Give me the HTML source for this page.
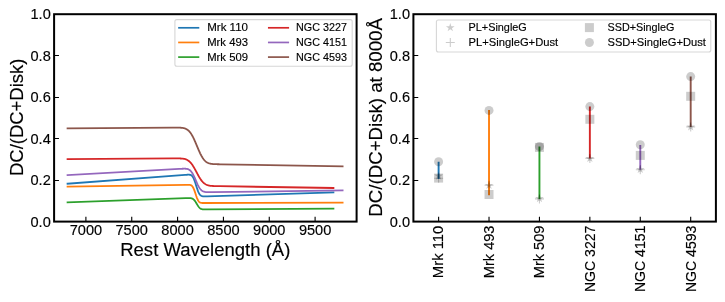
<!DOCTYPE html>
<html><head><meta charset="utf-8"><style>
html,body{margin:0;padding:0;background:#fff;width:725px;height:302px;overflow:hidden;font-family:"Liberation Sans",sans-serif;}
svg{display:block;} text{filter:grayscale(1);}
</style></head><body>
<svg width="725" height="302" viewBox="0 0 725 302" font-family="Liberation Sans, sans-serif">
<rect width="725" height="302" fill="#fff"/>
<defs><clipPath id="cl"><rect x="54.1" y="14.2" width="302.5" height="207.4"/></clipPath><clipPath id="cr"><rect x="413.4" y="14.2" width="302.5" height="207.4"/></clipPath></defs>
<g clip-path="url(#cl)"><polyline points="67.56,183.70 185.10,174.89 185.46,174.86 185.83,174.83 186.20,174.81 186.56,174.78 186.93,174.76 187.30,174.74 187.66,174.72 188.03,174.70 188.40,174.70 188.76,174.70 189.13,174.71 189.50,174.74 189.87,174.79 190.23,174.87 190.60,174.98 190.97,175.14 191.33,175.35 191.70,175.62 192.07,175.96 192.43,176.39 192.80,176.90 193.17,177.50 193.53,178.20 193.90,179.00 194.27,179.89 194.63,180.87 195.00,181.92 195.37,183.03 195.73,184.19 196.10,185.37 196.47,186.55 196.83,187.71 197.20,188.83 197.57,189.90 197.93,190.89 198.30,191.80 198.67,192.61 199.03,193.33 199.40,193.96 199.77,194.49 200.13,194.93 200.50,195.29 200.87,195.58 201.23,195.81 201.60,195.99 201.97,196.12 202.33,196.21 202.70,196.28 203.07,196.33 203.43,196.36 203.80,196.38 204.17,196.39 204.53,196.39 204.90,196.39 205.27,196.38 205.63,196.37 206.00,196.36 206.37,196.35 206.73,196.34 207.10,196.33 333.44,192.40" fill="none" stroke="#1f77b4" stroke-width="1.8" stroke-linecap="square" stroke-linejoin="round"/><polyline points="67.56,186.60 186.01,184.80 186.38,184.80 186.75,184.79 187.11,184.79 187.48,184.79 187.85,184.79 188.21,184.79 188.58,184.80 188.95,184.81 189.32,184.83 189.68,184.87 190.05,184.93 190.42,185.02 190.78,185.15 191.15,185.32 191.52,185.55 191.88,185.85 192.25,186.23 192.62,186.71 192.98,187.28 193.35,187.96 193.72,188.74 194.08,189.62 194.45,190.59 194.82,191.64 195.18,192.73 195.55,193.85 195.92,194.97 196.28,196.07 196.65,197.11 197.02,198.09 197.38,198.97 197.75,199.76 198.12,200.45 198.48,201.03 198.85,201.51 199.22,201.89 199.58,202.20 199.95,202.44 200.32,202.61 200.68,202.74 201.05,202.84 201.42,202.90 201.78,202.95 202.15,202.98 202.52,203.00 202.88,203.01 203.25,203.02 203.62,203.02 203.98,203.02 204.35,203.02 204.72,203.02 205.08,203.02 342.60,202.70" fill="none" stroke="#ff7f0e" stroke-width="1.8" stroke-linecap="square" stroke-linejoin="round"/><polyline points="67.56,202.30 185.65,198.19 186.01,198.18 186.38,198.16 186.75,198.15 187.11,198.14 187.48,198.13 187.85,198.12 188.21,198.11 188.58,198.11 188.95,198.10 189.32,198.11 189.68,198.11 190.05,198.13 190.42,198.16 190.78,198.20 191.15,198.26 191.52,198.34 191.88,198.45 192.25,198.59 192.62,198.77 192.98,198.99 193.35,199.26 193.72,199.57 194.08,199.94 194.45,200.35 194.82,200.82 195.18,201.32 195.55,201.87 195.92,202.45 196.28,203.05 196.65,203.66 197.02,204.28 197.38,204.88 197.75,205.47 198.12,206.02 198.48,206.54 198.85,207.01 199.22,207.44 199.58,207.81 199.95,208.14 200.32,208.42 200.68,208.65 201.05,208.84 201.42,209.00 201.78,209.12 202.15,209.21 202.52,209.29 202.88,209.34 203.25,209.38 203.62,209.41 203.98,209.43 204.35,209.44 204.72,209.45 205.08,209.45 205.45,209.45 205.82,209.45 206.18,209.45 206.55,209.45 206.92,209.45 207.28,209.45 207.65,209.45 333.44,208.60" fill="none" stroke="#2ca02c" stroke-width="1.8" stroke-linecap="square" stroke-linejoin="round"/><polyline points="67.56,159.10 173.00,158.44 173.36,158.44 173.73,158.44 174.10,158.44 174.46,158.43 174.83,158.43 175.20,158.43 175.56,158.43 175.93,158.43 176.30,158.43 176.66,158.43 177.03,158.43 177.40,158.43 177.76,158.43 178.13,158.43 178.50,158.44 178.86,158.44 179.23,158.45 179.60,158.45 179.96,158.46 180.33,158.48 180.70,158.49 181.06,158.51 181.43,158.53 181.80,158.56 182.16,158.59 182.53,158.62 182.90,158.66 183.26,158.71 183.63,158.77 184.00,158.83 184.36,158.90 184.73,158.99 185.10,159.08 185.46,159.19 185.83,159.31 186.20,159.45 186.56,159.61 186.93,159.78 187.30,159.97 187.66,160.17 188.03,160.40 188.40,160.66 188.76,160.93 189.13,161.23 189.50,161.55 189.87,161.90 190.23,162.28 190.60,162.68 190.97,163.10 191.33,163.55 191.70,164.03 192.07,164.54 192.43,165.06 192.80,165.61 193.17,166.19 193.53,166.78 193.90,167.40 194.27,168.03 194.63,168.67 195.00,169.33 195.37,170.00 195.73,170.68 196.10,171.36 196.47,172.05 196.83,172.74 197.20,173.43 197.57,174.11 197.93,174.78 198.30,175.44 198.67,176.09 199.03,176.73 199.40,177.35 199.77,177.95 200.13,178.53 200.50,179.09 200.87,179.62 201.23,180.13 201.60,180.62 201.97,181.08 202.33,181.52 202.70,181.93 203.07,182.31 203.43,182.67 203.80,183.00 204.17,183.31 204.53,183.60 204.90,183.86 205.27,184.10 205.63,184.32 206.00,184.52 206.37,184.70 206.73,184.86 207.10,185.01 207.47,185.14 207.83,185.26 208.20,185.37 208.57,185.46 208.93,185.54 209.30,185.62 209.67,185.68 210.03,185.74 210.40,185.79 210.77,185.83 211.13,185.87 211.50,185.91 211.87,185.94 212.24,185.96 212.60,185.98 212.97,186.01 213.34,186.02 213.70,186.04 214.07,186.05 214.44,186.07 214.80,186.08 215.17,186.09 215.54,186.10 215.90,186.11 216.27,186.12 216.64,186.12 217.00,186.13 217.37,186.14 217.74,186.15 218.10,186.15 218.47,186.16 218.84,186.17 219.20,186.17 219.57,186.18 219.94,186.18 333.44,188.00" fill="none" stroke="#d62728" stroke-width="1.8" stroke-linecap="square" stroke-linejoin="round"/><polyline points="67.56,175.10 179.23,168.92 179.60,168.90 179.96,168.88 180.33,168.86 180.70,168.84 181.06,168.82 181.43,168.80 181.80,168.79 182.16,168.77 182.53,168.75 182.90,168.74 183.26,168.73 183.63,168.72 184.00,168.71 184.36,168.71 184.73,168.71 185.10,168.71 185.46,168.73 185.83,168.75 186.20,168.78 186.56,168.83 186.93,168.89 187.30,168.96 187.66,169.06 188.03,169.18 188.40,169.32 188.76,169.49 189.13,169.69 189.50,169.93 189.87,170.20 190.23,170.51 190.60,170.86 190.97,171.26 191.33,171.71 191.70,172.20 192.07,172.73 192.43,173.32 192.80,173.95 193.17,174.62 193.53,175.33 193.90,176.08 194.27,176.86 194.63,177.66 195.00,178.49 195.37,179.33 195.73,180.18 196.10,181.03 196.47,181.87 196.83,182.71 197.20,183.52 197.57,184.31 197.93,185.07 198.30,185.79 198.67,186.48 199.03,187.12 199.40,187.72 199.77,188.27 200.13,188.78 200.50,189.25 200.87,189.66 201.23,190.04 201.60,190.37 201.97,190.66 202.33,190.91 202.70,191.13 203.07,191.32 203.43,191.48 203.80,191.62 204.17,191.73 204.53,191.83 204.90,191.90 205.27,191.97 205.63,192.02 206.00,192.06 206.37,192.09 206.73,192.11 207.10,192.13 207.47,192.14 207.83,192.15 208.20,192.15 208.57,192.16 208.93,192.16 209.30,192.16 209.67,192.16 210.03,192.15 210.40,192.15 210.77,192.15 211.13,192.14 211.50,192.14 211.87,192.14 212.24,192.13 342.60,190.40" fill="none" stroke="#9467bd" stroke-width="1.8" stroke-linecap="square" stroke-linejoin="round"/><polyline points="67.56,128.30 172.63,127.64 173.00,127.64 173.36,127.64 173.73,127.64 174.10,127.64 174.46,127.64 174.83,127.63 175.20,127.63 175.56,127.63 175.93,127.63 176.30,127.63 176.66,127.63 177.03,127.64 177.40,127.64 177.76,127.64 178.13,127.65 178.50,127.65 178.86,127.66 179.23,127.67 179.60,127.68 179.96,127.69 180.33,127.71 180.70,127.73 181.06,127.76 181.43,127.79 181.80,127.82 182.16,127.86 182.53,127.91 182.90,127.96 183.26,128.03 183.63,128.10 184.00,128.18 184.36,128.28 184.73,128.39 185.10,128.51 185.46,128.65 185.83,128.81 186.20,128.98 186.56,129.18 186.93,129.40 187.30,129.63 187.66,129.90 188.03,130.19 188.40,130.50 188.76,130.85 189.13,131.22 189.50,131.62 189.87,132.06 190.23,132.53 190.60,133.02 190.97,133.56 191.33,134.12 191.70,134.71 192.07,135.34 192.43,136.00 192.80,136.69 193.17,137.41 193.53,138.15 193.90,138.92 194.27,139.71 194.63,140.53 195.00,141.36 195.37,142.21 195.73,143.07 196.10,143.94 196.47,144.82 196.83,145.70 197.20,146.58 197.57,147.46 197.93,148.33 198.30,149.20 198.67,150.05 199.03,150.89 199.40,151.71 199.77,152.50 200.13,153.28 200.50,154.03 200.87,154.76 201.23,155.45 201.60,156.12 201.97,156.76 202.33,157.36 202.70,157.93 203.07,158.47 203.43,158.98 203.80,159.46 204.17,159.90 204.53,160.32 204.90,160.70 205.27,161.06 205.63,161.38 206.00,161.68 206.37,161.96 206.73,162.21 207.10,162.43 207.47,162.64 207.83,162.82 208.20,162.99 208.57,163.14 208.93,163.27 209.30,163.39 209.67,163.50 210.03,163.59 210.40,163.67 210.77,163.75 211.13,163.81 211.50,163.87 211.87,163.92 212.24,163.96 212.60,164.00 212.97,164.03 213.34,164.06 213.70,164.09 214.07,164.11 214.44,164.13 214.80,164.15 215.17,164.16 215.54,164.18 215.90,164.19 216.27,164.20 216.64,164.21 217.00,164.22 217.37,164.23 217.74,164.24 218.10,164.25 218.47,164.26 218.84,164.26 219.20,164.27 219.57,164.28 219.94,164.28 220.30,164.29 220.67,164.30 221.04,164.30 342.60,166.30" fill="none" stroke="#8c564b" stroke-width="1.8" stroke-linecap="square" stroke-linejoin="round"/></g>
<g clip-path="url(#cr)"><line x1="438.61" y1="179.10" x2="438.61" y2="161.70" stroke="#1f77b4" stroke-width="1.9"/><line x1="489.02" y1="195.30" x2="489.02" y2="110.00" stroke="#ff7f0e" stroke-width="1.9"/><line x1="539.44" y1="198.90" x2="539.44" y2="146.40" stroke="#2ca02c" stroke-width="1.9"/><line x1="589.86" y1="158.40" x2="589.86" y2="106.40" stroke="#d62728" stroke-width="1.9"/><line x1="640.27" y1="169.80" x2="640.27" y2="145.00" stroke="#9467bd" stroke-width="1.9"/><line x1="690.69" y1="126.90" x2="690.69" y2="76.40" stroke="#8c564b" stroke-width="1.9"/><polygon points="438.61,171.40 437.58,174.58 434.23,174.58 436.94,176.54 435.90,179.72 438.61,177.76 441.31,179.72 440.28,176.54 442.98,174.58 439.64,174.58" fill="#000000" fill-opacity="0.2"/><path d="M434.11,178.30H443.11M438.61,173.80V182.80" stroke="#000000" stroke-opacity="0.2" stroke-width="1.1" fill="none"/><rect x="434.11" y="173.60" width="9.00" height="9.00" fill="#000000" fill-opacity="0.2"/><circle cx="438.61" cy="161.70" r="4.50" fill="#000000" fill-opacity="0.2"/><polygon points="489.02,180.70 487.99,183.88 484.65,183.88 487.35,185.84 486.32,189.02 489.02,187.06 491.73,189.02 490.70,185.84 493.40,183.88 490.06,183.88" fill="#000000" fill-opacity="0.2"/><path d="M484.52,185.30H493.52M489.02,180.80V189.80" stroke="#000000" stroke-opacity="0.2" stroke-width="1.1" fill="none"/><rect x="484.52" y="190.00" width="9.00" height="9.00" fill="#000000" fill-opacity="0.2"/><circle cx="489.02" cy="110.40" r="4.50" fill="#000000" fill-opacity="0.2"/><polygon points="539.44,193.90 538.41,197.08 535.07,197.08 537.77,199.04 536.74,202.22 539.44,200.26 542.15,202.22 541.11,199.04 543.82,197.08 540.47,197.08" fill="#000000" fill-opacity="0.2"/><path d="M534.94,198.90H543.94M539.44,194.40V203.40" stroke="#000000" stroke-opacity="0.2" stroke-width="1.1" fill="none"/><rect x="534.94" y="142.90" width="9.00" height="9.00" fill="#000000" fill-opacity="0.2"/><circle cx="539.44" cy="146.60" r="4.50" fill="#000000" fill-opacity="0.2"/><polygon points="589.86,153.80 588.83,156.98 585.48,156.98 588.19,158.94 587.15,162.12 589.86,160.16 592.56,162.12 591.53,158.94 594.23,156.98 590.89,156.98" fill="#000000" fill-opacity="0.2"/><path d="M585.36,158.40H594.36M589.86,153.90V162.90" stroke="#000000" stroke-opacity="0.2" stroke-width="1.1" fill="none"/><rect x="585.36" y="114.80" width="9.00" height="9.00" fill="#000000" fill-opacity="0.2"/><circle cx="589.86" cy="106.60" r="4.50" fill="#000000" fill-opacity="0.2"/><polygon points="640.27,164.80 639.24,167.98 635.90,167.98 638.60,169.94 637.57,173.12 640.27,171.16 642.98,173.12 641.95,169.94 644.65,167.98 641.31,167.98" fill="#000000" fill-opacity="0.2"/><path d="M635.77,169.80H644.77M640.27,165.30V174.30" stroke="#000000" stroke-opacity="0.2" stroke-width="1.1" fill="none"/><rect x="635.77" y="150.90" width="9.00" height="9.00" fill="#000000" fill-opacity="0.2"/><circle cx="640.27" cy="144.80" r="4.50" fill="#000000" fill-opacity="0.2"/><polygon points="690.69,122.30 689.66,125.48 686.32,125.48 689.02,127.44 687.99,130.62 690.69,128.66 693.40,130.62 692.36,127.44 695.07,125.48 691.72,125.48" fill="#000000" fill-opacity="0.2"/><path d="M686.19,126.90H695.19M690.69,122.40V131.40" stroke="#000000" stroke-opacity="0.2" stroke-width="1.1" fill="none"/><rect x="686.19" y="91.80" width="9.00" height="9.00" fill="#000000" fill-opacity="0.2"/><circle cx="690.69" cy="76.60" r="4.50" fill="#000000" fill-opacity="0.2"/></g>
<rect x="54.10" y="14.20" width="302.50" height="207.40" fill="none" stroke="#000" stroke-width="2.0"/>
<rect x="413.40" y="14.20" width="302.50" height="207.40" fill="none" stroke="#000" stroke-width="2.0"/>
<path d="M54.10,221.50h4.86M413.40,221.50h4.86M54.10,180.50h4.86M413.40,180.50h4.86M54.10,138.50h4.86M413.40,138.50h4.86M54.10,97.50h4.86M413.40,97.50h4.86M54.10,55.50h4.86M413.40,55.50h4.86M54.10,14.50h4.86M413.40,14.50h4.86M85.90,221.60v-4.86M131.74,221.60v-4.86M177.58,221.60v-4.86M223.42,221.60v-4.86M269.26,221.60v-4.86M315.10,221.60v-4.86M438.61,221.60v-4.86M489.02,221.60v-4.86M539.44,221.60v-4.86M589.86,221.60v-4.86M640.27,221.60v-4.86M690.69,221.60v-4.86" stroke="#000" stroke-width="1.11" fill="none"/>
<text x="50.80" y="226.65" font-size="14.19" text-anchor="end" textLength="20.28" lengthAdjust="spacingAndGlyphs" fill="#000" stroke="#000" stroke-width="0.15">0.0</text>
<text x="410.00" y="226.65" font-size="14.19" text-anchor="end" textLength="20.28" lengthAdjust="spacingAndGlyphs" fill="#000" stroke="#000" stroke-width="0.15">0.0</text>
<text x="50.80" y="185.17" font-size="14.19" text-anchor="end" textLength="20.28" lengthAdjust="spacingAndGlyphs" fill="#000" stroke="#000" stroke-width="0.15">0.2</text>
<text x="410.00" y="185.17" font-size="14.19" text-anchor="end" textLength="20.28" lengthAdjust="spacingAndGlyphs" fill="#000" stroke="#000" stroke-width="0.15">0.2</text>
<text x="50.80" y="143.69" font-size="14.19" text-anchor="end" textLength="20.28" lengthAdjust="spacingAndGlyphs" fill="#000" stroke="#000" stroke-width="0.15">0.4</text>
<text x="410.00" y="143.69" font-size="14.19" text-anchor="end" textLength="20.28" lengthAdjust="spacingAndGlyphs" fill="#000" stroke="#000" stroke-width="0.15">0.4</text>
<text x="50.80" y="102.21" font-size="14.19" text-anchor="end" textLength="20.28" lengthAdjust="spacingAndGlyphs" fill="#000" stroke="#000" stroke-width="0.15">0.6</text>
<text x="410.00" y="102.21" font-size="14.19" text-anchor="end" textLength="20.28" lengthAdjust="spacingAndGlyphs" fill="#000" stroke="#000" stroke-width="0.15">0.6</text>
<text x="50.80" y="60.73" font-size="14.19" text-anchor="end" textLength="20.28" lengthAdjust="spacingAndGlyphs" fill="#000" stroke="#000" stroke-width="0.15">0.8</text>
<text x="410.00" y="60.73" font-size="14.19" text-anchor="end" textLength="20.28" lengthAdjust="spacingAndGlyphs" fill="#000" stroke="#000" stroke-width="0.15">0.8</text>
<text x="50.80" y="19.25" font-size="14.19" text-anchor="end" textLength="20.28" lengthAdjust="spacingAndGlyphs" fill="#000" stroke="#000" stroke-width="0.15">1.0</text>
<text x="410.00" y="19.25" font-size="14.19" text-anchor="end" textLength="20.28" lengthAdjust="spacingAndGlyphs" fill="#000" stroke="#000" stroke-width="0.15">1.0</text>
<text x="85.90" y="234.90" font-size="14.19" text-anchor="middle" textLength="32.45" lengthAdjust="spacingAndGlyphs" fill="#000" stroke="#000" stroke-width="0.15">7000</text>
<text x="131.74" y="234.90" font-size="14.19" text-anchor="middle" textLength="32.45" lengthAdjust="spacingAndGlyphs" fill="#000" stroke="#000" stroke-width="0.15">7500</text>
<text x="177.58" y="234.90" font-size="14.19" text-anchor="middle" textLength="32.45" lengthAdjust="spacingAndGlyphs" fill="#000" stroke="#000" stroke-width="0.15">8000</text>
<text x="223.42" y="234.90" font-size="14.19" text-anchor="middle" textLength="32.45" lengthAdjust="spacingAndGlyphs" fill="#000" stroke="#000" stroke-width="0.15">8500</text>
<text x="269.26" y="234.90" font-size="14.19" text-anchor="middle" textLength="32.45" lengthAdjust="spacingAndGlyphs" fill="#000" stroke="#000" stroke-width="0.15">9000</text>
<text x="315.10" y="234.90" font-size="14.19" text-anchor="middle" textLength="32.45" lengthAdjust="spacingAndGlyphs" fill="#000" stroke="#000" stroke-width="0.15">9500</text>
<text x="443.49" y="225.60" font-size="14.19" text-anchor="end" textLength="52.54" lengthAdjust="spacingAndGlyphs" transform="rotate(-90 443.49 225.60)" fill="#000" stroke="#000" stroke-width="0.15">Mrk 110</text>
<text x="493.90" y="225.60" font-size="14.19" text-anchor="end" textLength="52.54" lengthAdjust="spacingAndGlyphs" transform="rotate(-90 493.90 225.60)" fill="#000" stroke="#000" stroke-width="0.15">Mrk 493</text>
<text x="544.32" y="225.60" font-size="14.19" text-anchor="end" textLength="52.54" lengthAdjust="spacingAndGlyphs" transform="rotate(-90 544.32 225.60)" fill="#000" stroke="#000" stroke-width="0.15">Mrk 509</text>
<text x="594.74" y="225.60" font-size="14.19" text-anchor="end" textLength="66.44" lengthAdjust="spacingAndGlyphs" transform="rotate(-90 594.74 225.60)" fill="#000" stroke="#000" stroke-width="0.15">NGC 3227</text>
<text x="645.15" y="225.60" font-size="14.19" text-anchor="end" textLength="66.44" lengthAdjust="spacingAndGlyphs" transform="rotate(-90 645.15 225.60)" fill="#000" stroke="#000" stroke-width="0.15">NGC 4151</text>
<text x="695.57" y="225.60" font-size="14.19" text-anchor="end" textLength="66.44" lengthAdjust="spacingAndGlyphs" transform="rotate(-90 695.57 225.60)" fill="#000" stroke="#000" stroke-width="0.15">NGC 4593</text>
<text x="205.30" y="256.40" font-size="17.66" text-anchor="middle" textLength="170.21" lengthAdjust="spacingAndGlyphs" fill="#000" stroke="#000" stroke-width="0.15">Rest Wavelength (Å)</text>
<text x="23.10" y="117.30" font-size="17.66" text-anchor="middle" textLength="117.35" lengthAdjust="spacingAndGlyphs" transform="rotate(-90 23.10 117.30)" fill="#000" stroke="#000" stroke-width="0.15">DC/(DC+Disk)</text>
<text x="381.90" y="117.35" font-size="17.66" text-anchor="middle" textLength="198.53" lengthAdjust="spacingAndGlyphs" transform="rotate(-90 381.90 117.35)" fill="#000" stroke="#000" stroke-width="0.15">DC/(DC+Disk) at 8000Å</text>
<rect x="174.90" y="19.60" width="177.30" height="46.60" rx="2" ry="2" fill="#fff" fill-opacity="0.8" stroke="#cccccc" stroke-opacity="0.8" stroke-width="1.1"/>
<line x1="179.00" y1="27.80" x2="198.44" y2="27.80" stroke="#1f77b4" stroke-width="1.7" stroke-linecap="square"/>
<text x="207.20" y="31.40" font-size="10.60" text-anchor="start" textLength="40.80" lengthAdjust="spacingAndGlyphs" fill="#000" stroke="#000" stroke-width="0.15">Mrk 110</text>
<line x1="179.00" y1="42.45" x2="198.44" y2="42.45" stroke="#ff7f0e" stroke-width="1.7" stroke-linecap="square"/>
<text x="207.20" y="46.05" font-size="10.60" text-anchor="start" textLength="40.80" lengthAdjust="spacingAndGlyphs" fill="#000" stroke="#000" stroke-width="0.15">Mrk 493</text>
<line x1="179.00" y1="57.10" x2="198.44" y2="57.10" stroke="#2ca02c" stroke-width="1.7" stroke-linecap="square"/>
<text x="207.20" y="60.70" font-size="10.60" text-anchor="start" textLength="40.80" lengthAdjust="spacingAndGlyphs" fill="#000" stroke="#000" stroke-width="0.15">Mrk 509</text>
<line x1="268.80" y1="27.80" x2="288.24" y2="27.80" stroke="#d62728" stroke-width="1.7" stroke-linecap="square"/>
<text x="296.10" y="31.40" font-size="10.60" text-anchor="start" textLength="50.84" lengthAdjust="spacingAndGlyphs" fill="#000" stroke="#000" stroke-width="0.15">NGC 3227</text>
<line x1="268.80" y1="42.45" x2="288.24" y2="42.45" stroke="#9467bd" stroke-width="1.7" stroke-linecap="square"/>
<text x="296.10" y="46.05" font-size="10.60" text-anchor="start" textLength="50.84" lengthAdjust="spacingAndGlyphs" fill="#000" stroke="#000" stroke-width="0.15">NGC 4151</text>
<line x1="268.80" y1="57.10" x2="288.24" y2="57.10" stroke="#8c564b" stroke-width="1.7" stroke-linecap="square"/>
<text x="296.10" y="60.70" font-size="10.60" text-anchor="start" textLength="50.84" lengthAdjust="spacingAndGlyphs" fill="#000" stroke="#000" stroke-width="0.15">NGC 4593</text>
<rect x="436.40" y="20.00" width="274.40" height="32.00" rx="2" ry="2" fill="#fff" fill-opacity="0.8" stroke="#cccccc" stroke-opacity="0.8" stroke-width="1.1"/>
<polygon points="450.30,23.00 449.27,26.18 445.93,26.18 448.63,28.14 447.60,31.32 450.30,29.36 453.00,31.32 451.97,28.14 454.67,26.18 451.33,26.18" fill="#000000" fill-opacity="0.2"/>
<path d="M445.80,42.50H454.80M450.30,38.00V47.00" stroke="#000000" stroke-opacity="0.2" stroke-width="1.1" fill="none"/>
<rect x="584.90" y="23.10" width="9.00" height="9.00" fill="#000000" fill-opacity="0.2"/>
<circle cx="589.40" cy="42.50" r="4.50" fill="#000000" fill-opacity="0.2"/>
<text x="468.60" y="31.20" font-size="10.54" text-anchor="start" textLength="58.18" lengthAdjust="spacingAndGlyphs" fill="#000" stroke="#000" stroke-width="0.15">PL+SingleG</text>
<text x="468.60" y="46.10" font-size="10.54" text-anchor="start" textLength="89.57" lengthAdjust="spacingAndGlyphs" fill="#000" stroke="#000" stroke-width="0.15">PL+SingleG+Dust</text>
<text x="607.50" y="31.20" font-size="10.54" text-anchor="start" textLength="66.93" lengthAdjust="spacingAndGlyphs" fill="#000" stroke="#000" stroke-width="0.15">SSD+SingleG</text>
<text x="607.50" y="46.10" font-size="10.54" text-anchor="start" textLength="98.32" lengthAdjust="spacingAndGlyphs" fill="#000" stroke="#000" stroke-width="0.15">SSD+SingleG+Dust</text>
</svg>
</body></html>
